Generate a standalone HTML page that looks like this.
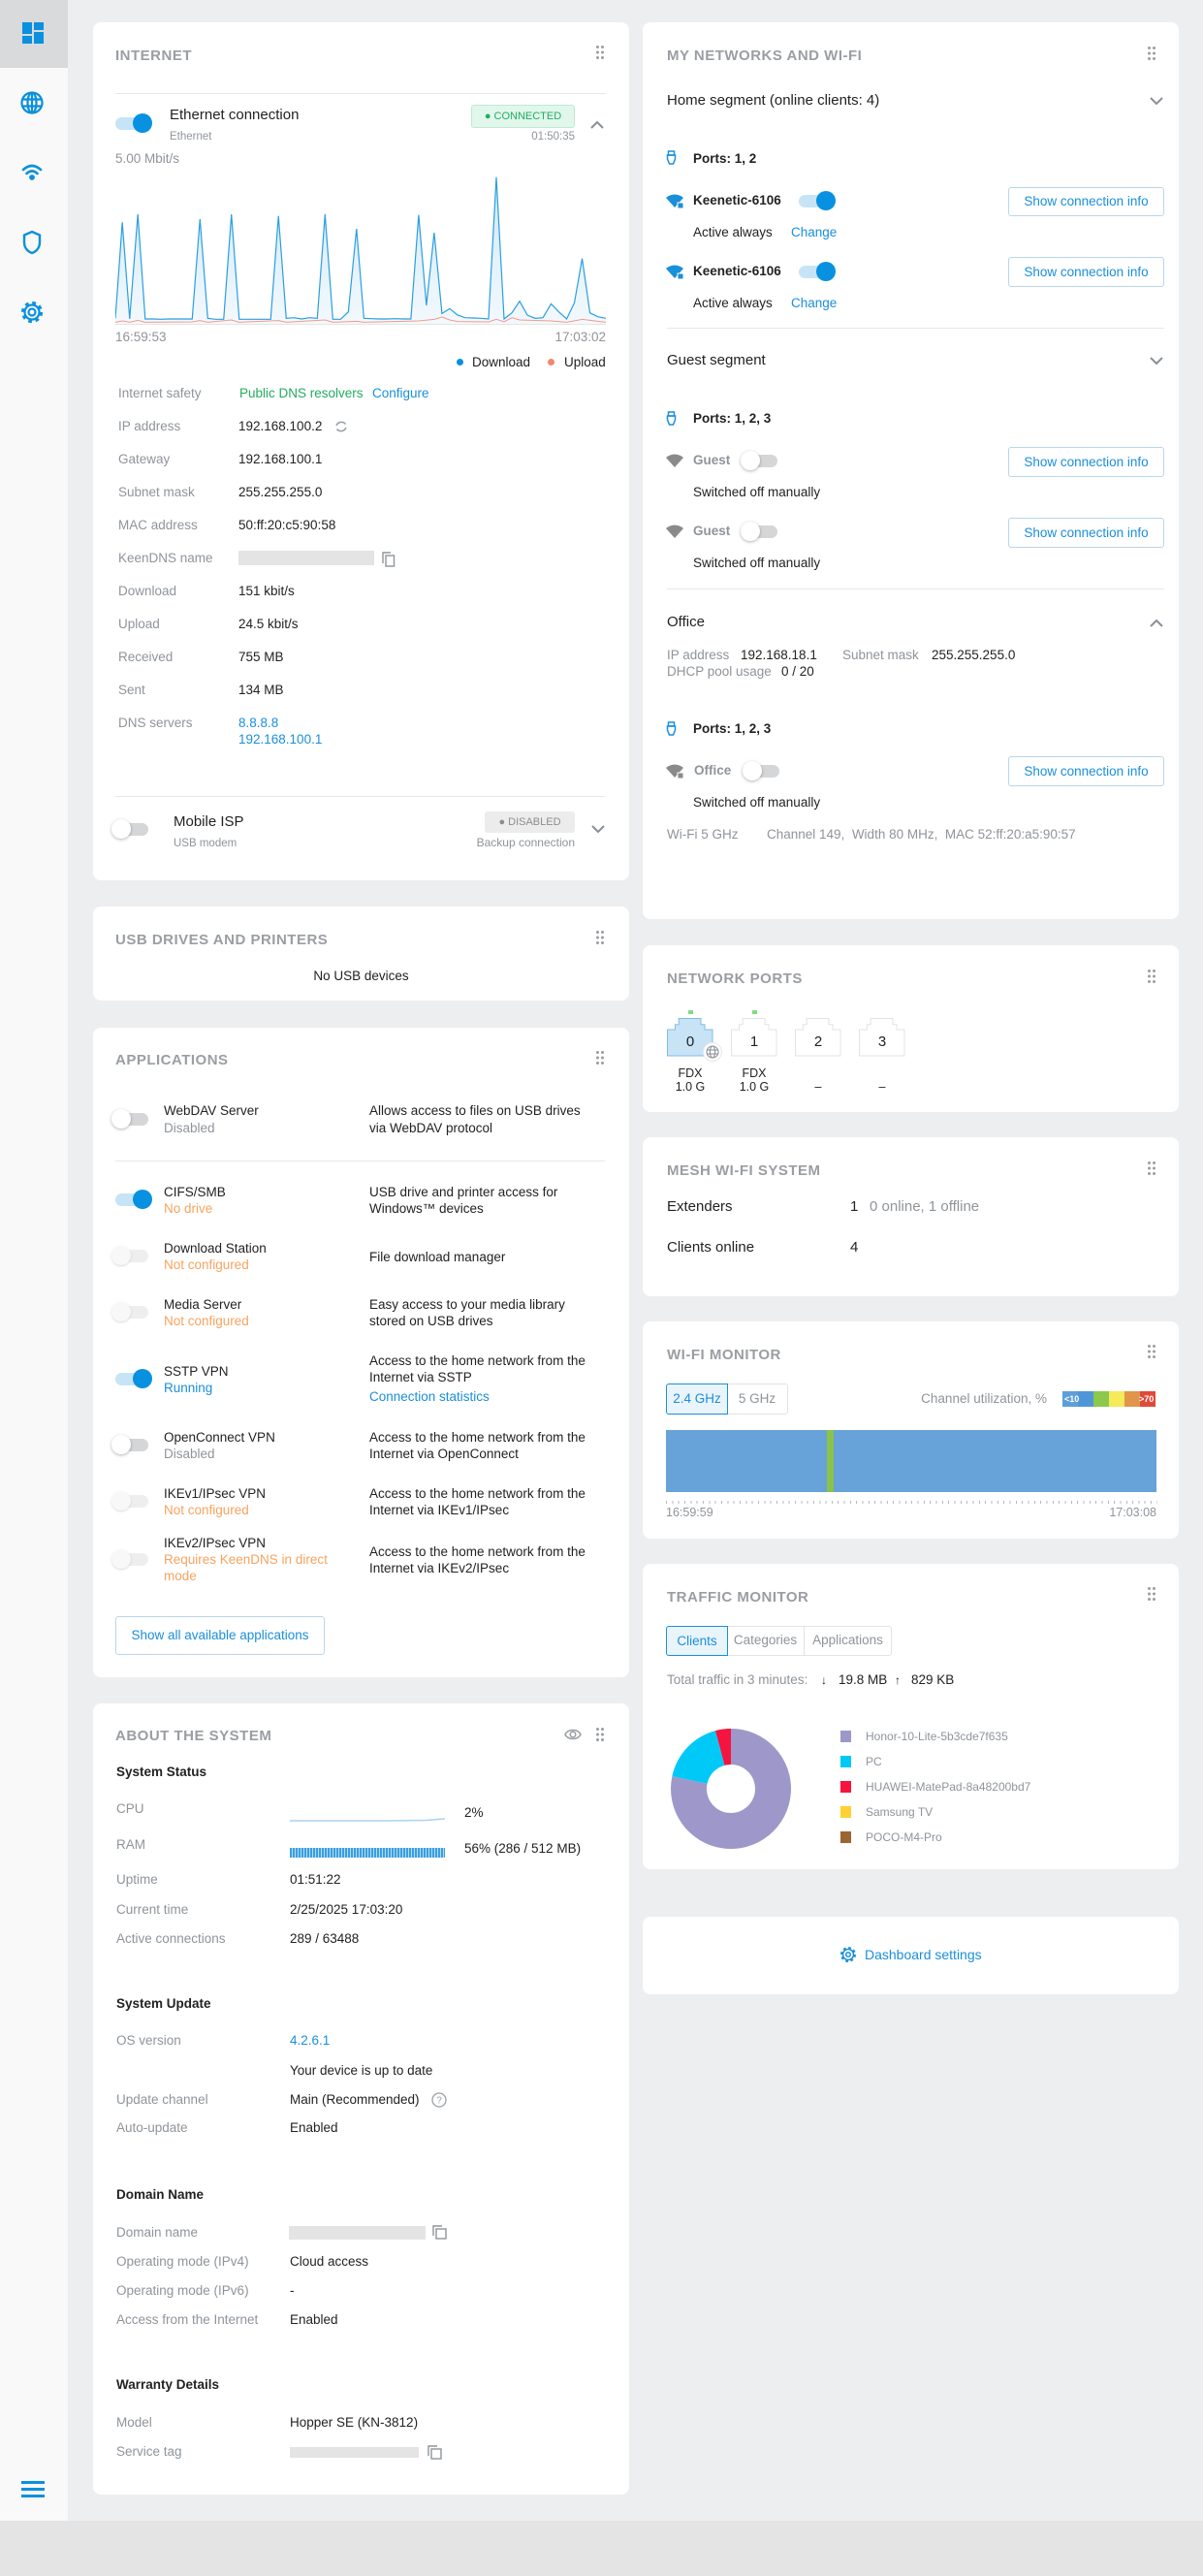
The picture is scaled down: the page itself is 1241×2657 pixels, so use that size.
<!DOCTYPE html>
<html><head><meta charset="utf-8">
<style>
*{box-sizing:border-box}
html,body{margin:0;padding:0}
body{width:1241px;height:2657px;position:relative;background:#e4e4e4;font-family:"Liberation Sans",Arial,sans-serif;overflow:hidden}
.app{position:absolute;left:0;top:0;width:1241px;height:2600px;background:#eceef0}
.side{position:absolute;left:0;top:0;width:70px;height:2600px;background:#f9f9f9}
.card{position:absolute;background:#fff;border-radius:8px}
.L{left:96px;width:553px}
.R{left:663px;width:553px}
.t{position:absolute;white-space:nowrap;font-size:13.5px;line-height:18px;color:#222}
.g{color:#8f949a}
.bl{color:#1a8fdb}
.or{color:#f6a35f}
.gr{color:#21ad5f}
.lg{font-size:15px}
.bd{font-weight:bold}
.h{font-size:15px;font-weight:bold;color:#9a9ea3;letter-spacing:.5px}
.sm{font-size:11.5px}
.hr{position:absolute;height:1px;background:#e8e8e8}
.tg{position:absolute;width:38px;height:20px}
.tg i{position:absolute;top:3.5px;width:33px;height:13px;border-radius:7px}
.tg b{position:absolute;top:0;width:20px;height:20px;border-radius:50%}
.on i{left:0;background:#c6e4f6}
.on b{left:18px;background:#0891e1}
.off i{left:5px;background:#d5d6d8}
.off b{left:0;background:#fff;box-shadow:0 1px 3px rgba(0,0,0,.3)}
.dis i{left:5px;background:#eeeeee}
.dis b{left:0;background:#f8f8f8;box-shadow:0 1px 2px rgba(0,0,0,.15)}
.ab{position:absolute}
.btn{position:absolute;border:1px solid #b9d6ea;border-radius:3px;color:#1a8fdb;font-size:13.5px;text-align:center;background:#fff}
.dh{position:absolute;fill:#9a9ea3}
.bar{position:absolute;background:#e4e4e4}
</style></head><body>
<div class="app"></div>
<div class="side"></div>
<!-- sidebar -->
<div class="ab" style="left:0;top:0;width:70px;height:70px;background:#d9dadc"></div>
<div class="ab" style="left:23px;top:23px;width:10px;height:12px;background:#0a90dd"></div>
<div class="ab" style="left:23px;top:37px;width:10px;height:8px;background:#0a90dd"></div>
<div class="ab" style="left:35px;top:23px;width:10px;height:8px;background:#0a90dd"></div>
<div class="ab" style="left:35px;top:33px;width:10px;height:12px;background:#0a90dd"></div>
<svg class="ab" style="left:21px;top:94px" width="24" height="24" fill="none" stroke="#0a90dd" stroke-width="2.2"><circle cx="12" cy="12" r="10.5"/><ellipse cx="12" cy="12" rx="4.5" ry="10.5"/><line x1="2" y1="8.5" x2="22" y2="8.5"/><line x1="2" y1="15.5" x2="22" y2="15.5"/><line x1="12" y1="1.5" x2="12" y2="22.5"/></svg>
<svg class="ab" style="left:21px;top:168px" width="24" height="18" fill="none" stroke="#0a90dd" stroke-width="2.6" stroke-linecap="round"><path d="M3,7 Q12,-1 21,7"/><path d="M6.5,11 Q12,6 17.5,11"/><circle cx="12" cy="15" r="1.6" fill="#0a90dd"/></svg>
<svg class="ab" style="left:22px;top:237px" width="22" height="26" fill="none" stroke="#0a90dd" stroke-width="2.4"><path d="M11,2 L19,5.5 V13 C19,19 15,22.5 11,24 C7,22.5 3,19 3,13 V5.5 Z"/></svg>
<svg class="ab" style="left:20px;top:309px" width="26" height="26" fill="none" stroke="#0a90dd"><circle cx="13" cy="13" r="9.5" stroke-width="3.2" stroke-dasharray="3.7 3.76"/><circle cx="13" cy="13" r="7.5" stroke-width="2.2"/><circle cx="13" cy="13" r="3.5" stroke-width="2.2"/></svg>
<div class="ab" style="left:22px;top:2559px;width:24px;height:3px;background:#0a90dd"></div>
<div class="ab" style="left:22px;top:2566px;width:24px;height:3px;background:#0a90dd"></div>
<div class="ab" style="left:22px;top:2573px;width:24px;height:3px;background:#0a90dd"></div>

<!-- cards -->
<div class="card L" style="top:23px;height:885px"></div>
<div class="card L" style="top:935px;height:97px"></div>
<div class="card L" style="top:1060px;height:670px"></div>
<div class="card L" style="top:1757px;height:816px"></div>
<div class="card R" style="top:23px;height:925px"></div>
<div class="card R" style="top:975px;height:172px"></div>
<div class="card R" style="top:1173px;height:164px"></div>
<div class="card R" style="top:1363px;height:224px"></div>
<div class="card R" style="top:1613px;height:315px"></div>
<div class="card R" style="top:1977px;height:80px"></div>

<!-- drag handles -->
<svg class="dh" style="left:615px;top:47px" width="8" height="14"><circle cx="1.5" cy="1.5" r="1.5"/><circle cx="6.5" cy="1.5" r="1.5"/><circle cx="1.5" cy="7" r="1.5"/><circle cx="6.5" cy="7" r="1.5"/><circle cx="1.5" cy="12.5" r="1.5"/><circle cx="6.5" cy="12.5" r="1.5"/></svg>
<svg class="dh" style="left:615px;top:960px" width="8" height="14"><circle cx="1.5" cy="1.5" r="1.5"/><circle cx="6.5" cy="1.5" r="1.5"/><circle cx="1.5" cy="7" r="1.5"/><circle cx="6.5" cy="7" r="1.5"/><circle cx="1.5" cy="12.5" r="1.5"/><circle cx="6.5" cy="12.5" r="1.5"/></svg>
<svg class="dh" style="left:615px;top:1084px" width="8" height="14"><circle cx="1.5" cy="1.5" r="1.5"/><circle cx="6.5" cy="1.5" r="1.5"/><circle cx="1.5" cy="7" r="1.5"/><circle cx="6.5" cy="7" r="1.5"/><circle cx="1.5" cy="12.5" r="1.5"/><circle cx="6.5" cy="12.5" r="1.5"/></svg>
<svg class="dh" style="left:615px;top:1782px" width="8" height="14"><circle cx="1.5" cy="1.5" r="1.5"/><circle cx="6.5" cy="1.5" r="1.5"/><circle cx="1.5" cy="7" r="1.5"/><circle cx="6.5" cy="7" r="1.5"/><circle cx="1.5" cy="12.5" r="1.5"/><circle cx="6.5" cy="12.5" r="1.5"/></svg>
<svg class="dh" style="left:1184px;top:48px" width="8" height="14"><circle cx="1.5" cy="1.5" r="1.5"/><circle cx="6.5" cy="1.5" r="1.5"/><circle cx="1.5" cy="7" r="1.5"/><circle cx="6.5" cy="7" r="1.5"/><circle cx="1.5" cy="12.5" r="1.5"/><circle cx="6.5" cy="12.5" r="1.5"/></svg>
<svg class="dh" style="left:1184px;top:1000px" width="8" height="14"><circle cx="1.5" cy="1.5" r="1.5"/><circle cx="6.5" cy="1.5" r="1.5"/><circle cx="1.5" cy="7" r="1.5"/><circle cx="6.5" cy="7" r="1.5"/><circle cx="1.5" cy="12.5" r="1.5"/><circle cx="6.5" cy="12.5" r="1.5"/></svg>
<svg class="dh" style="left:1184px;top:1198px" width="8" height="14"><circle cx="1.5" cy="1.5" r="1.5"/><circle cx="6.5" cy="1.5" r="1.5"/><circle cx="1.5" cy="7" r="1.5"/><circle cx="6.5" cy="7" r="1.5"/><circle cx="1.5" cy="12.5" r="1.5"/><circle cx="6.5" cy="12.5" r="1.5"/></svg>
<svg class="dh" style="left:1184px;top:1387px" width="8" height="14"><circle cx="1.5" cy="1.5" r="1.5"/><circle cx="6.5" cy="1.5" r="1.5"/><circle cx="1.5" cy="7" r="1.5"/><circle cx="6.5" cy="7" r="1.5"/><circle cx="1.5" cy="12.5" r="1.5"/><circle cx="6.5" cy="12.5" r="1.5"/></svg>
<svg class="dh" style="left:1184px;top:1637px" width="8" height="14"><circle cx="1.5" cy="1.5" r="1.5"/><circle cx="6.5" cy="1.5" r="1.5"/><circle cx="1.5" cy="7" r="1.5"/><circle cx="6.5" cy="7" r="1.5"/><circle cx="1.5" cy="12.5" r="1.5"/><circle cx="6.5" cy="12.5" r="1.5"/></svg>

<!-- INTERNET -->
<div class="t h" style="left:119px;top:49px">INTERNET</div>
<div class="hr" style="left:119px;top:96px;width:506px"></div>
<div class="tg on" style="left:119px;top:117px"><i></i><b></b></div>
<div class="t lg" style="left:175px;top:110px">Ethernet connection</div>
<div class="t sm g" style="left:175px;top:132px">Ethernet</div>
<div class="ab" style="left:486px;top:108px;width:107px;height:24px;background:#e1f7ec;border:1px solid #bfe9d2;border-radius:3px;color:#21ad5f;font-size:11px;line-height:22px;text-align:center">● CONNECTED</div>
<div class="t sm g" style="right:648px;top:132px">01:50:35</div>
<svg class="ab" style="left:609px;top:124px" width="14" height="9" fill="none" stroke="#8a8f95" stroke-width="2"><polyline points="1,8 7,2 13,8"/></svg>
<div class="t g" style="left:119px;top:155px">5.00 Mbit/s</div>
<svg class="ab" style="left:119px;top:180px" width="506" height="155" viewBox="285 540 1200 465" preserveAspectRatio="none">
<defs><linearGradient id="gf" x1="0" y1="0" x2="0" y2="1"><stop offset="0" stop-color="#cfe8f8"/><stop offset="1" stop-color="#f3f9fd"/></linearGradient></defs>
<polygon fill="url(#gf)" points="285,985 302,688 320,987 340,663 358,987 378,987 397,988 416,987 435,987 454,987 473,987 492,678 511,985 530,988 550,988 569,663 588,988 607,988 627,988 646,988 665,988 684,668 703,985 722,983 741,987 760,983 779,985 798,663 817,988 836,988 855,965 875,708 893,985 912,986 931,987 950,987 970,986 989,987 1008,987 1027,665 1046,945 1065,720 1084,970 1103,955 1122,975 1141,983 1160,984 1179,985 1198,987 1217,548 1236,987 1255,968 1274,932 1293,975 1312,985 1331,983 1351,940 1370,965 1389,987 1408,937 1427,800 1446,968 1465,980 1485,985 1485,1005 285,1005"/>
<line x1="285" y1="1004" x2="1485" y2="1004" stroke="#e2e2e2" stroke-width="1" vector-effect="non-scaling-stroke"/>
<polyline fill="none" stroke="#f39a8a" stroke-width="1" vector-effect="non-scaling-stroke" points="285,997 302,993 320,997 340,991 358,997 473,996 492,992 511,997 569,990 588,997 684,992 703,997 798,990 817,997 875,994 893,997 1027,993 1065,988 1084,981 1103,990 1122,995 1198,996 1217,988 1236,996 1255,983 1274,990 1351,993 1389,997 1427,988 1485,997"/>
<polyline fill="none" stroke="#2a9ee0" stroke-width="1.2" vector-effect="non-scaling-stroke" points="285,985 302,688 320,987 340,663 358,987 378,987 397,988 416,987 435,987 454,987 473,987 492,678 511,985 530,988 550,988 569,663 588,988 607,988 627,988 646,988 665,988 684,668 703,985 722,983 741,987 760,983 779,985 798,663 817,988 836,988 855,965 875,708 893,985 912,986 931,987 950,987 970,986 989,987 1008,987 1027,665 1046,945 1065,720 1084,970 1103,955 1122,975 1141,983 1160,984 1179,985 1198,987 1217,548 1236,987 1255,968 1274,932 1293,975 1312,985 1331,983 1351,940 1370,965 1389,987 1408,937 1427,800 1446,968 1465,980 1485,985"/>
</svg>
<div class="t g" style="left:119px;top:339px">16:59:53</div>
<div class="t g" style="right:616px;top:339px">17:03:02</div>
<div class="ab" style="left:471px;top:370px;width:7px;height:7px;border-radius:50%;background:#0a8fdd"></div>
<div class="t" style="left:487px;top:365px">Download</div>
<div class="ab" style="left:565px;top:370px;width:7px;height:7px;border-radius:50%;background:#f5856f"></div>
<div class="t" style="left:582px;top:365px">Upload</div>

<div class="t g" style="left:122px;top:397px">Internet safety</div>
<div class="t gr" style="left:247px;top:397px">Public DNS resolvers</div>
<div class="t bl" style="left:384px;top:397px">Configure</div>
<div class="t g" style="left:122px;top:431px">IP address</div>
<div class="t" style="left:246px;top:431px">192.168.100.2</div>
<svg class="ab" style="left:345px;top:433px" width="14" height="14" fill="none" stroke="#9aa0a6" stroke-width="1.6"><path d="M11.5,4.5 A5.5,5.5 0 0 0 2,6"/><path d="M2.5,9.5 A5.5,5.5 0 0 0 12,8"/></svg>
<div class="t g" style="left:122px;top:465px">Gateway</div>
<div class="t" style="left:246px;top:465px">192.168.100.1</div>
<div class="t g" style="left:122px;top:499px">Subnet mask</div>
<div class="t" style="left:246px;top:499px">255.255.255.0</div>
<div class="t g" style="left:122px;top:533px">MAC address</div>
<div class="t" style="left:246px;top:533px">50:ff:20:c5:90:58</div>
<div class="t g" style="left:122px;top:567px">KeenDNS name</div>
<div class="bar" style="left:246px;top:568px;width:140px;height:15px"></div>
<svg class="ab" style="left:394px;top:569px" width="14" height="16" fill="none" stroke="#8f949a" stroke-width="1.4"><path d="M1,12 V1 H9"/><rect x="4" y="4" width="8.5" height="11"/></svg>
<div class="t g" style="left:122px;top:601px">Download</div>
<div class="t" style="left:246px;top:601px">151 kbit/s</div>
<div class="t g" style="left:122px;top:635px">Upload</div>
<div class="t" style="left:246px;top:635px">24.5 kbit/s</div>
<div class="t g" style="left:122px;top:669px">Received</div>
<div class="t" style="left:246px;top:669px">755 MB</div>
<div class="t g" style="left:122px;top:703px">Sent</div>
<div class="t" style="left:246px;top:703px">134 MB</div>
<div class="t g" style="left:122px;top:737px">DNS servers</div>
<div class="t bl" style="left:246px;top:737px">8.8.8.8</div>
<div class="t bl" style="left:246px;top:754px">192.168.100.1</div>
<div class="hr" style="left:119px;top:821px;width:505px"></div>
<div class="tg off" style="left:115px;top:845px"><i></i><b></b></div>
<div class="t lg" style="left:179px;top:839px">Mobile ISP</div>
<div class="t sm g" style="left:179px;top:861px">USB modem</div>
<div class="ab" style="left:500px;top:837px;width:93px;height:22px;background:#ececec;border-radius:3px;color:#8d8d8d;font-size:11px;line-height:22px;text-align:center">● DISABLED</div>
<div class="t g" style="right:648px;top:860px;font-size:12px">Backup connection</div>
<svg class="ab" style="left:610px;top:851px" width="14" height="9" fill="none" stroke="#8a8f95" stroke-width="2"><polyline points="1,1 7,7 13,1"/></svg>

<!-- USB -->
<div class="t h" style="left:119px;top:961px">USB DRIVES AND PRINTERS</div>
<div class="t" style="left:96px;width:553px;text-align:center;top:998px">No USB devices</div>

<!-- APPLICATIONS -->
<div class="t h" style="left:119px;top:1085px">APPLICATIONS</div>
<div class="tg off" style="left:115px;top:1144px"><i></i><b></b></div>
<div class="t" style="left:169px;top:1137px">WebDAV Server</div>
<div class="t g" style="left:169px;top:1155px">Disabled</div>
<div class="t" style="left:381px;top:1137px">Allows access to files on USB drives</div>
<div class="t" style="left:381px;top:1155px">via WebDAV protocol</div>
<div class="hr" style="left:119px;top:1197px;width:505px"></div>
<div class="tg on" style="left:119px;top:1227px"><i></i><b></b></div>
<div class="t" style="left:169px;top:1221px">CIFS/SMB</div>
<div class="t or" style="left:169px;top:1238px">No drive</div>
<div class="t" style="left:381px;top:1221px">USB drive and printer access for</div>
<div class="t" style="left:381px;top:1238px">Windows™ devices</div>
<div class="tg dis" style="left:115px;top:1285px"><i></i><b></b></div>
<div class="t" style="left:169px;top:1279px">Download Station</div>
<div class="t or" style="left:169px;top:1296px">Not configured</div>
<div class="t" style="left:381px;top:1288px">File download manager</div>
<div class="tg dis" style="left:115px;top:1343px"><i></i><b></b></div>
<div class="t" style="left:169px;top:1337px">Media Server</div>
<div class="t or" style="left:169px;top:1354px">Not configured</div>
<div class="t" style="left:381px;top:1337px">Easy access to your media library</div>
<div class="t" style="left:381px;top:1354px">stored on USB drives</div>
<div class="tg on" style="left:119px;top:1412px"><i></i><b></b></div>
<div class="t" style="left:169px;top:1406px">SSTP VPN</div>
<div class="t bl" style="left:169px;top:1423px">Running</div>
<div class="t" style="left:381px;top:1395px">Access to the home network from the</div>
<div class="t" style="left:381px;top:1412px">Internet via SSTP</div>
<div class="t bl" style="left:381px;top:1432px">Connection statistics</div>
<div class="tg off" style="left:115px;top:1480px"><i></i><b></b></div>
<div class="t" style="left:169px;top:1474px">OpenConnect VPN</div>
<div class="t g" style="left:169px;top:1491px">Disabled</div>
<div class="t" style="left:381px;top:1474px">Access to the home network from the</div>
<div class="t" style="left:381px;top:1491px">Internet via OpenConnect</div>
<div class="tg dis" style="left:115px;top:1538px"><i></i><b></b></div>
<div class="t" style="left:169px;top:1532px">IKEv1/IPsec VPN</div>
<div class="t or" style="left:169px;top:1549px">Not configured</div>
<div class="t" style="left:381px;top:1532px">Access to the home network from the</div>
<div class="t" style="left:381px;top:1549px">Internet via IKEv1/IPsec</div>
<div class="tg dis" style="left:115px;top:1598px"><i></i><b></b></div>
<div class="t" style="left:169px;top:1583px">IKEv2/IPsec VPN</div>
<div class="t or" style="left:169px;top:1600px">Requires KeenDNS in direct</div>
<div class="t or" style="left:169px;top:1617px">mode</div>
<div class="t" style="left:381px;top:1592px">Access to the home network from the</div>
<div class="t" style="left:381px;top:1609px">Internet via IKEv2/IPsec</div>
<div class="btn" style="left:119px;top:1667px;width:216px;height:40px;line-height:38px">Show all available applications</div>

<!-- ABOUT -->
<div class="t h" style="left:119px;top:1782px">ABOUT THE SYSTEM</div>
<svg class="ab" style="left:582px;top:1781px" width="18" height="16" fill="none" stroke="#9a9ea3" stroke-width="1.5"><path d="M1,8 C4,2 14,2 17,8 C14,14 4,14 1,8 Z"/><circle cx="9" cy="8" r="2.8"/></svg>
<div class="t bd" style="left:120px;top:1819px">System Status</div>
<div class="t g" style="left:120px;top:1857px">CPU</div>
<svg class="ab" style="left:299px;top:1872px" width="160" height="8"><polyline fill="none" stroke="#a8d4f0" stroke-width="1.5" points="0,6 100,6 140,5.5 160,4"/></svg>
<div class="t" style="left:479px;top:1861px">2%</div>
<div class="t g" style="left:120px;top:1894px">RAM</div>
<div class="ab" style="left:299px;top:1906px;width:160px;height:10px;background:repeating-linear-gradient(90deg,#3a9fe0 0 2px,#b5dbf3 2px 3px)"></div>
<div class="t" style="left:479px;top:1898px">56% (286 / 512 MB)</div>
<div class="t g" style="left:120px;top:1930px">Uptime</div>
<div class="t" style="left:299px;top:1930px">01:51:22</div>
<div class="t g" style="left:120px;top:1961px">Current time</div>
<div class="t" style="left:299px;top:1961px">2/25/2025 17:03:20</div>
<div class="t g" style="left:120px;top:1991px">Active connections</div>
<div class="t" style="left:299px;top:1991px">289 / 63488</div>
<div class="t bd" style="left:120px;top:2058px">System Update</div>
<div class="t g" style="left:120px;top:2096px">OS version</div>
<div class="t bl" style="left:299px;top:2096px">4.2.6.1</div>
<div class="t" style="left:299px;top:2127px">Your device is up to date</div>
<div class="t g" style="left:120px;top:2157px">Update channel</div>
<div class="t" style="left:299px;top:2157px">Main (Recommended)</div>
<svg class="ab" style="left:445px;top:2158px" width="16" height="16" fill="none" stroke="#9aa0a6" stroke-width="1.3"><circle cx="8" cy="8" r="7"/><text x="8" y="11.5" font-size="10" text-anchor="middle" fill="#9aa0a6" stroke="none" font-family="Liberation Sans">?</text></svg>
<div class="t g" style="left:120px;top:2186px">Auto-update</div>
<div class="t" style="left:299px;top:2186px">Enabled</div>
<div class="t bd" style="left:120px;top:2255px">Domain Name</div>
<div class="t g" style="left:120px;top:2294px">Domain name</div>
<div class="bar" style="left:298px;top:2296px;width:141px;height:14px"></div>
<svg class="ab" style="left:446px;top:2295px" width="15" height="15" fill="none" stroke="#8f949a" stroke-width="1.4"><path d="M1,11 V1 H10"/><rect x="4" y="4" width="10" height="10"/></svg>
<div class="t g" style="left:120px;top:2324px">Operating mode (IPv4)</div>
<div class="t" style="left:299px;top:2324px">Cloud access</div>
<div class="t g" style="left:120px;top:2354px">Operating mode (IPv6)</div>
<div class="t" style="left:299px;top:2354px">-</div>
<div class="t g" style="left:120px;top:2384px">Access from the Internet</div>
<div class="t" style="left:299px;top:2384px">Enabled</div>
<div class="t bd" style="left:120px;top:2451px">Warranty Details</div>
<div class="t g" style="left:120px;top:2490px">Model</div>
<div class="t" style="left:299px;top:2490px">Hopper SE (KN-3812)</div>
<div class="t g" style="left:120px;top:2520px">Service tag</div>
<div class="bar" style="left:299px;top:2524px;width:133px;height:11px"></div>
<svg class="ab" style="left:441px;top:2522px" width="15" height="15" fill="none" stroke="#8f949a" stroke-width="1.4"><path d="M1,11 V1 H10"/><rect x="4" y="4" width="10" height="10"/></svg>

<!-- MY NETWORKS -->
<div class="t h" style="left:688px;top:49px">MY NETWORKS AND WI-FI</div>
<div class="t lg" style="left:688px;top:95px">Home segment (online clients: 4)</div>
<svg class="ab" style="left:1186px;top:100px" width="14" height="9" fill="none" stroke="#8a8f95" stroke-width="2"><polyline points="1,1 7,7 13,1"/></svg>
<svg class="ab" style="left:687px;top:155px" width="11" height="15" fill="none" stroke="#1a8fdb" stroke-width="1.5"><path d="M1.5,5 V9 L3.5,14 H7.5 L9.5,9 V5 Z"/><rect x="2.5" y="1" width="6" height="4"/></svg>
<div class="t bd" style="left:715px;top:155px">Ports: 1, 2</div>
<svg class="ab" style="left:686px;top:200px" width="20" height="16"><path d="M1,4 C6,-0.5 14,-0.5 19,4 L10,14 Z" fill="#1a8fdb"/><rect x="13" y="9" width="6" height="6" fill="#1a8fdb" stroke="#fff" stroke-width="1"/></svg>
<div class="t bd" style="left:715px;top:198px">Keenetic-6106</div>
<div class="tg on" style="left:824px;top:197px"><i></i><b></b></div>
<div class="btn" style="left:1040px;top:193px;width:161px;height:30px;line-height:28px">Show connection info</div>
<div class="t" style="left:715px;top:231px">Active always</div>
<div class="t bl" style="left:816px;top:231px">Change</div>
<svg class="ab" style="left:686px;top:273px" width="20" height="16"><path d="M1,4 C6,-0.5 14,-0.5 19,4 L10,14 Z" fill="#1a8fdb"/><rect x="13" y="9" width="6" height="6" fill="#1a8fdb" stroke="#fff" stroke-width="1"/></svg>
<div class="t bd" style="left:715px;top:271px">Keenetic-6106</div>
<div class="tg on" style="left:824px;top:270px"><i></i><b></b></div>
<div class="btn" style="left:1040px;top:265px;width:161px;height:31px;line-height:29px">Show connection info</div>
<div class="t" style="left:715px;top:304px">Active always</div>
<div class="t bl" style="left:816px;top:304px">Change</div>
<div class="hr" style="left:688px;top:338px;width:513px"></div>
<div class="t lg" style="left:688px;top:363px">Guest segment</div>
<svg class="ab" style="left:1186px;top:368px" width="14" height="9" fill="none" stroke="#8a8f95" stroke-width="2"><polyline points="1,1 7,7 13,1"/></svg>
<svg class="ab" style="left:687px;top:424px" width="11" height="15" fill="none" stroke="#1a8fdb" stroke-width="1.5"><path d="M1.5,5 V9 L3.5,14 H7.5 L9.5,9 V5 Z"/><rect x="2.5" y="1" width="6" height="4"/></svg>
<div class="t bd" style="left:715px;top:423px">Ports: 1, 2, 3</div>
<svg class="ab" style="left:686px;top:468px" width="20" height="16"><path d="M1,4 C6,-0.5 14,-0.5 19,4 L10,14 Z" fill="#8a8a8a"/></svg>
<div class="t bd g" style="left:715px;top:466px">Guest</div>
<div class="tg off" style="left:764px;top:465px"><i></i><b></b></div>
<div class="btn" style="left:1040px;top:461px;width:161px;height:31px;line-height:29px">Show connection info</div>
<div class="t" style="left:715px;top:499px">Switched off manually</div>
<svg class="ab" style="left:686px;top:541px" width="20" height="16"><path d="M1,4 C6,-0.5 14,-0.5 19,4 L10,14 Z" fill="#8a8a8a"/></svg>
<div class="t bd g" style="left:715px;top:539px">Guest</div>
<div class="tg off" style="left:764px;top:538px"><i></i><b></b></div>
<div class="btn" style="left:1040px;top:534px;width:161px;height:31px;line-height:29px">Show connection info</div>
<div class="t" style="left:715px;top:572px">Switched off manually</div>
<div class="hr" style="left:688px;top:607px;width:513px"></div>
<div class="t lg" style="left:688px;top:633px">Office</div>
<svg class="ab" style="left:1186px;top:638px" width="14" height="9" fill="none" stroke="#8a8f95" stroke-width="2"><polyline points="1,8 7,2 13,8"/></svg>
<div class="t g" style="left:688px;top:667px">IP address</div>
<div class="t" style="left:764px;top:667px">192.168.18.1</div>
<div class="t g" style="left:869px;top:667px">Subnet mask</div>
<div class="t" style="left:961px;top:667px">255.255.255.0</div>
<div class="t g" style="left:688px;top:684px">DHCP pool usage</div>
<div class="t" style="left:806px;top:684px">0 / 20</div>
<svg class="ab" style="left:687px;top:744px" width="11" height="15" fill="none" stroke="#1a8fdb" stroke-width="1.5"><path d="M1.5,5 V9 L3.5,14 H7.5 L9.5,9 V5 Z"/><rect x="2.5" y="1" width="6" height="4"/></svg>
<div class="t bd" style="left:715px;top:743px">Ports: 1, 2, 3</div>
<svg class="ab" style="left:686px;top:788px" width="20" height="16"><path d="M1,4 C6,-0.5 14,-0.5 19,4 L10,14 Z" fill="#8a8a8a"/><rect x="13" y="9" width="6" height="6" fill="#8a8a8a" stroke="#fff" stroke-width="1"/></svg>
<div class="t bd g" style="left:716px;top:786px">Office</div>
<div class="tg off" style="left:766px;top:785px"><i></i><b></b></div>
<div class="btn" style="left:1040px;top:780px;width:161px;height:31px;line-height:29px">Show connection info</div>
<div class="t" style="left:715px;top:819px">Switched off manually</div>
<div class="t g" style="left:688px;top:852px">Wi-Fi 5 GHz</div>
<div class="t g" style="left:791px;top:852px">Channel 149,&nbsp; Width 80 MHz,&nbsp; MAC 52:ff:20:a5:90:57</div>

<!-- NETWORK PORTS -->
<div class="t h" style="left:688px;top:1001px">NETWORK PORTS</div>
<div class="ab" style="left:710px;top:1042px;width:5px;height:4px;background:#7fdc7f"></div>
<div class="ab" style="left:776px;top:1042px;width:5px;height:4px;background:#7fdc7f"></div>
<svg class="ab" style="left:688px;top:1050px" width="48" height="40"><path d="M0.5,12 H8.5 V6.7 H12.2 V0.5 H35 V6.7 H39 V12 H47 V39 H0.5 Z" fill="#c8e3f6" stroke="#7dbde9"/></svg>
<svg class="ab" style="left:754px;top:1050px" width="48" height="40"><path d="M0.5,12 H8.5 V6.7 H12.2 V0.5 H35 V6.7 H39 V12 H47 V39 H0.5 Z" fill="#fff" stroke="#e3e3e3"/></svg>
<svg class="ab" style="left:820px;top:1050px" width="48" height="40"><path d="M0.5,12 H8.5 V6.7 H12.2 V0.5 H35 V6.7 H39 V12 H47 V39 H0.5 Z" fill="#fff" stroke="#e3e3e3"/></svg>
<svg class="ab" style="left:886px;top:1050px" width="48" height="40"><path d="M0.5,12 H8.5 V6.7 H12.2 V0.5 H35 V6.7 H39 V12 H47 V39 H0.5 Z" fill="#fff" stroke="#e3e3e3"/></svg>
<div class="t lg" style="left:688px;width:48px;text-align:center;top:1066px">0</div>
<div class="t lg" style="left:754px;width:48px;text-align:center;top:1066px">1</div>
<div class="t lg" style="left:820px;width:48px;text-align:center;top:1066px">2</div>
<div class="t lg" style="left:886px;width:48px;text-align:center;top:1066px">3</div>
<svg class="ab" style="left:725px;top:1075px" width="20" height="20"><circle cx="10" cy="10" r="9.5" fill="#fff" stroke="#e8e8e8"/><g fill="none" stroke="#8f949a" stroke-width="1.1"><circle cx="10" cy="10" r="6"/><ellipse cx="10" cy="10" rx="2.6" ry="6"/><line x1="4" y1="8" x2="16" y2="8"/><line x1="4" y1="12" x2="16" y2="12"/></g></svg>
<div class="t" style="left:688px;width:48px;text-align:center;top:1098px;font-size:12.5px">FDX</div>
<div class="t" style="left:688px;width:48px;text-align:center;top:1112px;font-size:12.5px">1.0 G</div>
<div class="t" style="left:754px;width:48px;text-align:center;top:1098px;font-size:12.5px">FDX</div>
<div class="t" style="left:754px;width:48px;text-align:center;top:1112px;font-size:12.5px">1.0 G</div>
<div class="t" style="left:820px;width:48px;text-align:center;top:1112px;font-size:12.5px">–</div>
<div class="t" style="left:886px;width:48px;text-align:center;top:1112px;font-size:12.5px">–</div>

<!-- MESH -->
<div class="t h" style="left:688px;top:1199px">MESH WI-FI SYSTEM</div>
<div class="t lg" style="left:688px;top:1236px">Extenders</div>
<div class="t lg" style="left:877px;top:1236px">1</div>
<div class="t lg g" style="left:897px;top:1236px">0 online, 1 offline</div>
<div class="t lg" style="left:688px;top:1278px">Clients online</div>
<div class="t lg" style="left:877px;top:1278px">4</div>

<!-- WIFI MONITOR -->
<div class="t h" style="left:688px;top:1389px">WI-FI MONITOR</div>
<div class="ab" style="left:750px;top:1427px;width:63px;height:32px;border:1px solid #e3e3e3;border-left:none;border-radius:0 3px 3px 0;color:#8f949a;font-size:13.5px;line-height:30px;text-align:center">5 GHz</div>
<div class="ab" style="left:687px;top:1427px;width:64px;height:32px;border:1px solid #1a8fdb;background:#eaf4fb;border-radius:3px 0 0 3px;color:#1a8fdb;font-size:13.5px;line-height:30px;text-align:center">2.4 GHz</div>
<div class="t g" style="right:161px;top:1434px">Channel utilization, %</div>
<div class="ab" style="left:1096px;top:1435px;width:16px;height:16px;background:#5e9fd9"></div>
<div class="ab" style="left:1112px;top:1435px;width:16px;height:16px;background:#4f96d8"></div>
<div class="ab" style="left:1128px;top:1435px;width:16px;height:16px;background:#8cc84b"></div>
<div class="ab" style="left:1144px;top:1435px;width:16px;height:16px;background:#f4ea5a"></div>
<div class="ab" style="left:1160px;top:1435px;width:16px;height:16px;background:#e0954a"></div>
<div class="ab" style="left:1176px;top:1435px;width:16px;height:16px;background:#e04a3a"></div>
<div class="t" style="left:1098px;top:1434px;font-size:9px;color:#fff;font-weight:bold">&lt;10</div>
<div class="t" style="left:1175px;top:1434px;font-size:9px;color:#fff;font-weight:bold">&gt;70</div>
<div class="ab" style="left:687px;top:1475px;width:506px;height:64px;background:#67a3d8"></div>
<div class="ab" style="left:853px;top:1475px;width:7px;height:64px;background:#8bc34a"></div>
<div class="ab" style="left:687px;top:1548px;width:507px;height:3px;background:repeating-linear-gradient(90deg,#b8b8b8 0 1px,transparent 1px 6.33px)"></div>
<div class="t g" style="left:687px;top:1551px;font-size:12.5px">16:59:59</div>
<div class="t g" style="right:48px;top:1551px;font-size:12.5px">17:03:08</div>

<!-- TRAFFIC -->
<div class="t h" style="left:688px;top:1639px">TRAFFIC MONITOR</div>
<div class="ab" style="left:750px;top:1677px;width:170px;height:31px;border:1px solid #e3e3e3;border-left:none;border-radius:0 3px 3px 0"></div>
<div class="ab" style="left:829px;top:1677px;width:1px;height:31px;background:#e3e3e3"></div>
<div class="t g" style="left:750px;width:79px;text-align:center;top:1683px">Categories</div>
<div class="t g" style="left:829px;width:91px;text-align:center;top:1683px">Applications</div>
<div class="ab" style="left:687px;top:1677px;width:64px;height:31px;border:1px solid #1a8fdb;background:#eaf4fb;border-radius:3px 0 0 3px;color:#1a8fdb;font-size:13.5px;line-height:29px;text-align:center">Clients</div>
<div class="t g" style="left:688px;top:1724px">Total traffic in 3 minutes:</div>
<div class="t" style="left:847px;top:1724px;font-size:12px">↓</div>
<div class="t" style="left:865px;top:1724px">19.8 MB</div>
<div class="t" style="left:923px;top:1724px;font-size:12px">↑</div>
<div class="t" style="left:940px;top:1724px">829 KB</div>
<svg class="ab" style="left:692px;top:1783px" width="124" height="124">
<path d="M62,0 A62,62 0 1 1 1.36,49.11 L37.55,56.80 A25,25 0 1 0 62,37 Z" fill="#9d98c9"/>
<path d="M1.36,49.11 A62,62 0 0 1 45.95,2.11 L55.53,37.85 A25,25 0 0 0 37.55,56.80 Z" fill="#00c9f7"/>
<path d="M45.95,2.11 A62,62 0 0 1 62,0 L62,37 A25,25 0 0 0 55.53,37.85 Z" fill="#f5143f"/>
</svg>
<div class="ab" style="left:867px;top:1785px;width:11px;height:12px;background:#9d98c9"></div>
<div class="ab" style="left:867px;top:1811px;width:11px;height:12px;background:#00c9f7"></div>
<div class="ab" style="left:867px;top:1837px;width:11px;height:12px;background:#f5143f"></div>
<div class="ab" style="left:867px;top:1863px;width:11px;height:12px;background:#ffd132"></div>
<div class="ab" style="left:867px;top:1889px;width:11px;height:12px;background:#9b6534"></div>
<div class="t g" style="left:893px;top:1782px;font-size:12px">Honor-10-Lite-5b3cde7f635</div>
<div class="t g" style="left:893px;top:1808px;font-size:12px">PC</div>
<div class="t g" style="left:893px;top:1834px;font-size:12px">HUAWEI-MatePad-8a48200bd7</div>
<div class="t g" style="left:893px;top:1860px;font-size:12px">Samsung TV</div>
<div class="t g" style="left:893px;top:1886px;font-size:12px">POCO-M4-Pro</div>

<!-- DASHBOARD SETTINGS -->
<svg class="ab" style="left:866px;top:2007px" width="18" height="18" fill="none" stroke="#1a8fdb"><circle cx="9" cy="9" r="6.8" stroke-width="2.4" stroke-dasharray="2.7 2.64"/><circle cx="9" cy="9" r="5.5" stroke-width="1.5"/><circle cx="9" cy="9" r="2.3" stroke-width="1.5"/></svg>
<div class="t bl" style="left:892px;top:2007px;font-size:14px">Dashboard settings</div>
</body></html>
